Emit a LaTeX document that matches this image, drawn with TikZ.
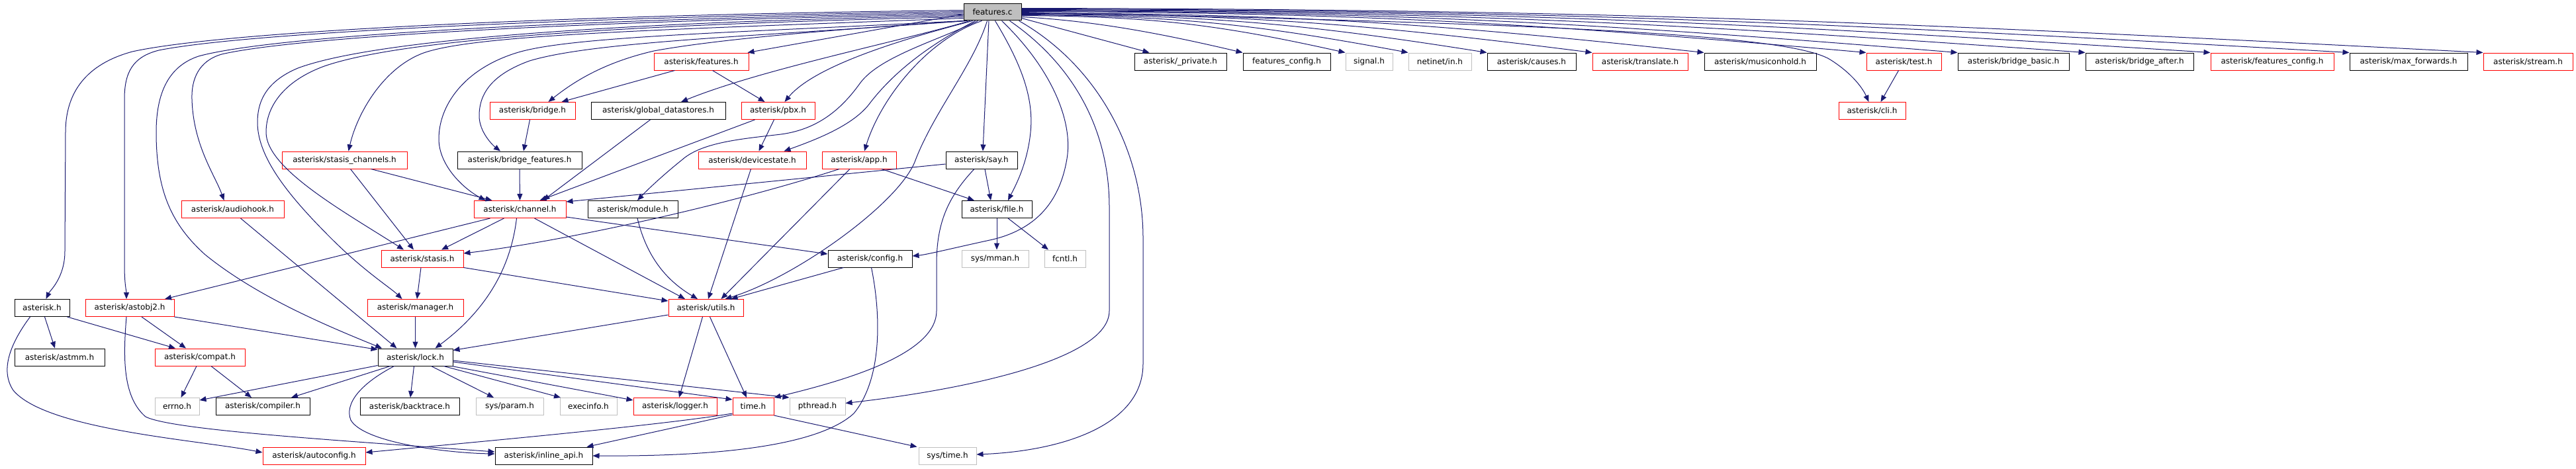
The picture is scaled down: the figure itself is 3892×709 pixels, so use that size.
\documentclass[tikz,border=0pt]{standalone}
\usepackage{fontspec}
\newfontfamily\dv{DejaVu Sans}
\usetikzlibrary{arrows.meta}
\definecolor{mblue}{RGB}{25,25,112}
\definecolor{grey75}{RGB}{191,191,191}
\tikzset{
  nd/.style={draw, rectangle, inner sep=0pt, minimum height=26pt, line width=1pt, fill=white, text=black,
             font=\dv\fontsize{12}{14}\selectfont},
  rd/.style={nd, draw=red},
  bk/.style={nd, draw=black},
  gy/.style={nd, draw=grey75},
  fcs/.style={nd, draw=black, fill=grey75, minimum height=25pt},
  ed/.style={draw=mblue, line width=1pt, -{Triangle[length=10pt,width=8pt]}},
}
\newcommand\mk[6]{\node[#1, minimum width={#4pt-#3pt}] (#2) at ({(#3+#4)/2},{18.5+74.5*#5}) {#6};}
\begin{document}
\begin{tikzpicture}[x=1pt,y=-1pt]
\useasboundingbox (0,0) rectangle (3892,709);
% row 0
\mk{fcs}{fc}{1456}{1543}{0}{features.c}
% row 1
\mk{rd}{feat}{988}{1131}{1}{asterisk/features.h}
\mk{bk}{priv}{1714}{1853}{1}{asterisk/\_private.h}
\mk{bk}{fcfg}{1878}{2010}{1}{features\_config.h}
\mk{gy}{sig}{2033}{2104}{1}{signal.h}
\mk{gy}{netin}{2128}{2223}{1}{netinet/in.h}
\mk{bk}{causes}{2247}{2381}{1}{asterisk/causes.h}
\mk{rd}{transl}{2406}{2550}{1}{asterisk/translate.h}
\mk{bk}{moh}{2575}{2744}{1}{asterisk/musiconhold.h}
\mk{rd}{test}{2820}{2933}{1}{asterisk/test.h}
\mk{bk}{bbasic}{2958}{3126}{1}{asterisk/bridge\_basic.h}
\mk{bk}{bafter}{3151}{3314}{1}{asterisk/bridge\_after.h}
\mk{rd}{afcfg}{3340}{3526}{1}{asterisk/features\_config.h}
\mk{bk}{maxf}{3550}{3728}{1}{asterisk/max\_forwards.h}
\mk{rd}{stream}{3752}{3887}{1}{asterisk/stream.h}
% row 2
\mk{rd}{bridge}{740}{869}{2}{asterisk/bridge.h}
\mk{bk}{gds}{893}{1096}{2}{asterisk/global\_datastores.h}
\mk{rd}{pbx}{1120}{1231}{2}{asterisk/pbx.h}
\mk{rd}{cli}{2778}{2879}{2}{asterisk/cli.h}
% row 3
\mk{rd}{stch}{426}{615}{3}{asterisk/stasis\_channels.h}
\mk{bk}{bfeat}{691}{879}{3}{asterisk/bridge\_features.h}
\mk{rd}{devst}{1055}{1218}{3}{asterisk/devicestate.h}
\mk{rd}{app}{1242}{1354}{3}{asterisk/app.h}
\mk{bk}{say}{1429}{1537}{3}{asterisk/say.h}
% row 4
\mk{rd}{audio}{274}{429}{4}{asterisk/audiohook.h}
\mk{rd}{chan}{716}{855}{4}{asterisk/channel.h}
\mk{bk}{module}{888}{1024}{4}{asterisk/module.h}
\mk{bk}{file}{1453}{1559}{4}{asterisk/file.h}
% row 5
\mk{rd}{stasis}{576}{700}{5}{asterisk/stasis.h}
\mk{bk}{config}{1251}{1378}{5}{asterisk/config.h}
\mk{gy}{mman}{1453}{1554}{5}{sys/mman.h}
\mk{gy}{fcntl}{1578}{1640}{5}{fcntl.h}
% row 6
\mk{bk}{ast}{22}{105}{6}{asterisk.h}
\mk{rd}{astobj}{129}{263}{6}{asterisk/astobj2.h}
\mk{rd}{manager}{555}{700}{6}{asterisk/manager.h}
\mk{rd}{utils}{1010}{1123}{6}{asterisk/utils.h}
% row 7
\mk{bk}{astmm}{22}{158}{7}{asterisk/astmm.h}
\mk{rd}{compat}{234}{370}{7}{asterisk/compat.h}
\mk{bk}{lock}{571}{684}{7}{asterisk/lock.h}
% row 8
\mk{gy}{errno}{234}{301}{8}{errno.h}
\mk{bk}{compiler}{326}{468}{8}{asterisk/compiler.h}
\mk{bk}{backtr}{544}{694}{8}{asterisk/backtrace.h}
\mk{gy}{param}{719}{821}{8}{sys/param.h}
\mk{gy}{execinfo}{846}{932}{8}{execinfo.h}
\mk{rd}{logger}{957}{1083}{8}{asterisk/logger.h}
\mk{rd}{time}{1107}{1169}{8}{time.h}
\mk{gy}{pthread}{1193}{1277}{8}{pthread.h}
% row 9
\mk{rd}{autoconf}{397}{552}{9}{asterisk/autoconfig.h}
\mk{bk}{inline}{748}{895}{9}{asterisk/inline\_api.h}
\mk{gy}{systime}{1388}{1475}{9}{sys/time.h}

% ---------- edges from features.c, left side
\draw[ed] ([yshift=3]fc.west) .. controls (900,22) and (350,45) .. (200,78) .. controls (130,97) and (99,140) .. (99,200) -- (98,380) .. controls (98,420) and (75,440) .. ([xshift=6]ast.north);
\draw[ed] ([yshift=1]fc.west) .. controls (900,25) and (380,48) .. (240,76) .. controls (200,86) and (188,110) .. (188,150) -- (188,400) .. controls (188,430) and (191,440) .. ([xshift=-5]astobj.north);
\draw[ed] ([yshift=-1]fc.west) .. controls (900,28) and (420,52) .. (300,85) .. controls (255,100) and (236,140) .. (236,200) .. controls (236,290) and (260,340) .. (310,385) .. controls (390,450) and (500,495) .. (lock.165);
\draw[ed] ([yshift=-3]fc.west) .. controls (900,31) and (450,55) .. (335,82) .. controls (300,92) and (289,120) .. (290,150) .. controls (292,220) and (325,265) .. ([xshift=-13]audio.north);
\draw[ed] ([yshift=-5]fc.west) .. controls (900,34) and (560,62) .. (450,103) .. controls (405,122) and (389,150) .. (389,185) .. controls (389,240) and (440,300) .. (500,360) .. controls (550,410) and (590,435) .. ([xshift=-20]manager.north);
\draw[ed] ([yshift=-7]fc.west) .. controls (900,38) and (600,62) .. (490,100) .. controls (430,122) and (402,160) .. (402,200) .. controls (402,255) and (520,320) .. ([xshift=-28]stasis.north);
\draw[ed] ([yshift=-9]fc.west) .. controls (1000,45) and (720,52) .. (640,80) .. controls (580,102) and (540,170) .. ([xshift=6]stch.north);
\draw[ed] (fc.south west) .. controls (1100,50) and (860,55) .. (780,80) .. controls (700,105) and (663,160) .. (663,210) .. controls (663,250) and (700,285) .. ([xshift=-52]chan.north);
\draw[ed] ([xshift=3]fc.south west) .. controls (1150,55) and (900,62) .. (800,92) .. controls (745,112) and (724,140) .. (724,175) .. controls (724,200) and (745,220) .. ([xshift=-29]bfeat.north);
\draw[ed] ([xshift=6]fc.south west) .. controls (1250,45) and (1080,60) .. (988,77) .. controls (910,95) and (865,125) .. ([xshift=24]bridge.north);
\draw[ed] ([yshift=-3]fc.west) -- ([xshift=-2]feat.north east);
\draw[ed] ([xshift=10]fc.south west) .. controls (1350,65) and (1150,105) .. ([xshift=34.5]gds.north);
\draw[ed] ([xshift=14]fc.south west) .. controls (1360,60) and (1230,100) .. ([xshift=10]pbx.north);
\draw[ed] ([xshift=18]fc.south west) .. controls (1400,70) and (1350,110) .. (1315,155) .. controls (1290,190) and (1230,212) .. ([xshift=48]devst.north);
\draw[ed] ([xshift=22]fc.south west) .. controls (1420,60) and (1330,85) .. (1300,125) .. controls (1275,160) and (1240,195) .. (1180,203) .. controls (1120,210) and (1060,215) .. (1030,242) .. controls (1005,262) and (980,285) .. ([xshift=7]module.north);
\draw[ed] ([xshift=28]fc.south west) .. controls (1400,60) and (1330,150) .. ([xshift=8]app.north);
\draw[ed] ([xshift=36]fc.south west) .. controls (1470,100) and (1410,170) .. (1382,245) .. controls (1355,310) and (1200,420) .. ([xshift=29]utils.north);
\draw[ed] ([xshift=-5.5]fc.south) -- ([xshift=2]say.north);
\draw[ed] ([xshift=4]fc.south) .. controls (1545,100) and (1562,150) .. (1557,200) .. controls (1552,250) and (1532,285) .. ([xshift=17]file.north);
\draw[ed] ([xshift=14]fc.south) .. controls (1585,100) and (1622,180) .. (1612,240) .. controls (1602,300) and (1570,345) .. (1500,362) .. controls (1440,375) and (1400,385) .. ([yshift=4]config.east);
\draw[ed] ([xshift=26]fc.south) .. controls (1625,100) and (1676,200) .. (1676,313) -- (1676,470) .. controls (1676,545) and (1450,590) .. ([yshift=5]pthread.east);
\draw[ed] ([xshift=-4]fc.south east) .. controls (1660,100) and (1727,230) .. (1727,360) -- (1727,550) .. controls (1727,645) and (1600,682) .. ([yshift=2]systime.east);

% ---------- edges from features.c, right side
\draw[ed] ([yshift=-9]fc.east) -- ([xshift=23]priv.north west);
\draw[ed] ([yshift=-7]fc.east) .. controls (1660,32) and (1760,52) .. (fcfg.north west);
\draw[ed] ([yshift=-5]fc.east) .. controls (1739,25) and (1837,36) .. (sig.north west);
\draw[ed] ([yshift=-4]fc.east) .. controls (1777,24) and (1894,36) .. (netin.north west);
\draw[ed] ([yshift=-3]fc.east) .. controls (1825,23) and (1965,35) .. (causes.north west);
\draw[ed] ([yshift=-2]fc.east) .. controls (1888,22) and (2061,36) .. (transl.north west);
\draw[ed] ([yshift=-1]fc.east) .. controls (1956,21) and (2162,35) .. (moh.north west);
\draw[ed] ([yshift=0]fc.east) .. controls (2300,35) and (2700,50) .. (2765,90) .. controls (2800,112) and (2815,135) .. ([xshift=-5]cli.north);
\draw[ed] ([yshift=1]fc.east) .. controls (2054,19) and (2309,34.5) .. (test.north west);
\draw[ed] ([yshift=2]fc.east) .. controls (2109,18) and (2392,33.6) .. (bbasic.north west);
\draw[ed] ([yshift=3]fc.east) .. controls (2186,17) and (2508,34) .. (bafter.north west);
\draw[ed] ([yshift=4]fc.east) .. controls (2262,16) and (2621,33.5) .. (afcfg.north west);
\draw[ed] ([yshift=5]fc.east) .. controls (2346,15) and (2747,33.7) .. (maxf.north west);
\draw[ed] ([yshift=6]fc.east) .. controls (2427,14) and (2868,33.7) .. (stream.north west);

% ---------- other edges
\draw[ed] ([xshift=-8]test.south) -- ([xshift=13]cli.north);
\draw[ed] ([xshift=-40]feat.south) -- ([xshift=44]bridge.north);
\draw[ed] ([xshift=17]feat.south) -- ([xshift=-20]pbx.north);
\draw[ed] ([xshift=-4]bridge.south) -- ([xshift=6]bfeat.north);
\draw[ed] ([xshift=-12]gds.south) -- ([xshift=35]chan.north);
\draw[ed] ([xshift=-35]pbx.south) -- ([xshift=30]chan.north);
\draw[ed] ([xshift=-6]pbx.south) -- ([xshift=10]devst.north);
\draw[ed] ([xshift=40]stch.south) -- ([xshift=-42]chan.north);
\draw[ed] ([xshift=9]stch.south) -- ([xshift=-13]stasis.north);
\draw[ed] (bfeat.south) -- (chan.north);
\draw[ed] ([xshift=12]audio.south) -- ([xshift=-28]lock.north);
\draw[ed] ([xshift=-45]chan.south) -- ([xshift=53]astobj.north);
\draw[ed] ([xshift=-24]chan.south) -- ([xshift=29]stasis.north);
\draw[ed] ([xshift=-5]chan.south) .. controls (770,420) and (720,480) .. ([xshift=30]lock.north);
\draw[ed] ([xshift=22]chan.south) -- ([xshift=-31.5]utils.north);
\draw[ed] ([yshift=2]chan.south east) -- ([yshift=7]config.west);
\draw[ed] ([xshift=7]module.south) .. controls (975,380) and (1000,420) .. ([xshift=-12.5]utils.north);
\draw[ed] ([xshift=-2]stasis.south) -- ([xshift=2.5]manager.north);
\draw[ed] (stasis.south east) -- ([yshift=-3]utils.north west);
\draw[ed] (manager.south) -- (lock.north);
\draw[ed] ([yshift=3]utils.south west) -- ([yshift=-3]lock.north east);
\draw[ed] ([xshift=-2]devst.south) -- ([xshift=3.5]utils.north);
\draw[ed] ([xshift=-30]app.south) .. controls (1100,310) and (850,365) .. ([yshift=8]stasis.east);
\draw[ed] ([xshift=-14]app.south) -- ([xshift=23]utils.north);
\draw[ed] ([xshift=34]app.south) -- ([xshift=-34]file.north);
\draw[ed] ([yshift=-6]say.west) -- ([yshift=-2]chan.north east);
\draw[ed] ([xshift=5]say.south) -- ([xshift=-9]file.north);
\draw[ed] ([xshift=-11]say.south) .. controls (1430,300) and (1415,340) .. (1415,400) -- (1415,470) .. controls (1415,530) and (1300,570) .. (time.north east);
\draw[ed] (file.south) -- ([xshift=2.5]mman.north);
\draw[ed] ([xshift=17]file.south) -- ([xshift=-25]fcntl.north);
\draw[ed] ([xshift=-40]config.south) -- ([xshift=38]utils.north);
\draw[ed] ([xshift=2]config.south) .. controls (1330,470) and (1335,570) .. (1290,625) .. controls (1230,680) and (1050,690) .. (inline.east);
\draw[ed] ([xshift=-5]utils.south) -- ([xshift=6]logger.north);
\draw[ed] ([xshift=6]utils.south) -- ([xshift=-10]time.north);
\draw[ed] ([yshift=1]lock.south west) -- ([yshift=-4]errno.north east);
\draw[ed] ([xshift=19]lock.south west) -- ([xshift=43]compiler.north);
\draw[ed] ([xshift=25]lock.south west) .. controls (545,580) and (520,610) .. (530,635) .. controls (550,670) and (680,685) .. ([yshift=3]inline.west);
\draw[ed] ([xshift=-2]lock.south) -- ([xshift=1]backtr.north);
\draw[ed] ([xshift=24]lock.south) -- ([xshift=-24]param.north);
\draw[ed] ([xshift=43]lock.south) -- ([xshift=-42]execinfo.north);
\draw[ed] ([xshift=-2]lock.south east) -- ([yshift=-4]logger.north west);
\draw[ed] ([yshift=-7]lock.east) -- ([yshift=-3]time.north west);
\draw[ed] ([yshift=-5]lock.east) -- (pthread.north west);
\draw[ed] ([yshift=3]time.south west) .. controls (1000,643) and (700,670) .. ([yshift=5]autoconf.east);
\draw[ed] ([yshift=1]time.south west) -- ([xshift=-9]inline.north east);
\draw[ed] (time.south east) -- ([xshift=-2]systime.north west);
\draw[ed] ([xshift=-5]astobj.south) .. controls (186,540) and (185,600) .. (220,630) .. controls (260,650) and (500,665) .. ([yshift=6]inline.west);
\draw[ed] ([xshift=4]ast.south) -- ([xshift=-7]astmm.north);
\draw[ed] ([xshift=38]ast.south) -- ([xshift=-37]compat.north);
\draw[ed] ([xshift=-18]ast.south) .. controls (15,520) and (0,560) .. (20,590) .. controls (70,650) and (300,665) .. ([yshift=5]autoconf.west);
\draw[ed] ([xshift=18]astobj.south) -- ([xshift=-21]compat.north);
\draw[ed] (astobj.south east) -- ([yshift=-2]lock.north west);
\draw[ed] ([xshift=-5]compat.south) -- ([xshift=6]errno.north);
\draw[ed] ([xshift=17]compat.south) -- ([xshift=-17]compiler.north);
\end{tikzpicture}
\end{document}
